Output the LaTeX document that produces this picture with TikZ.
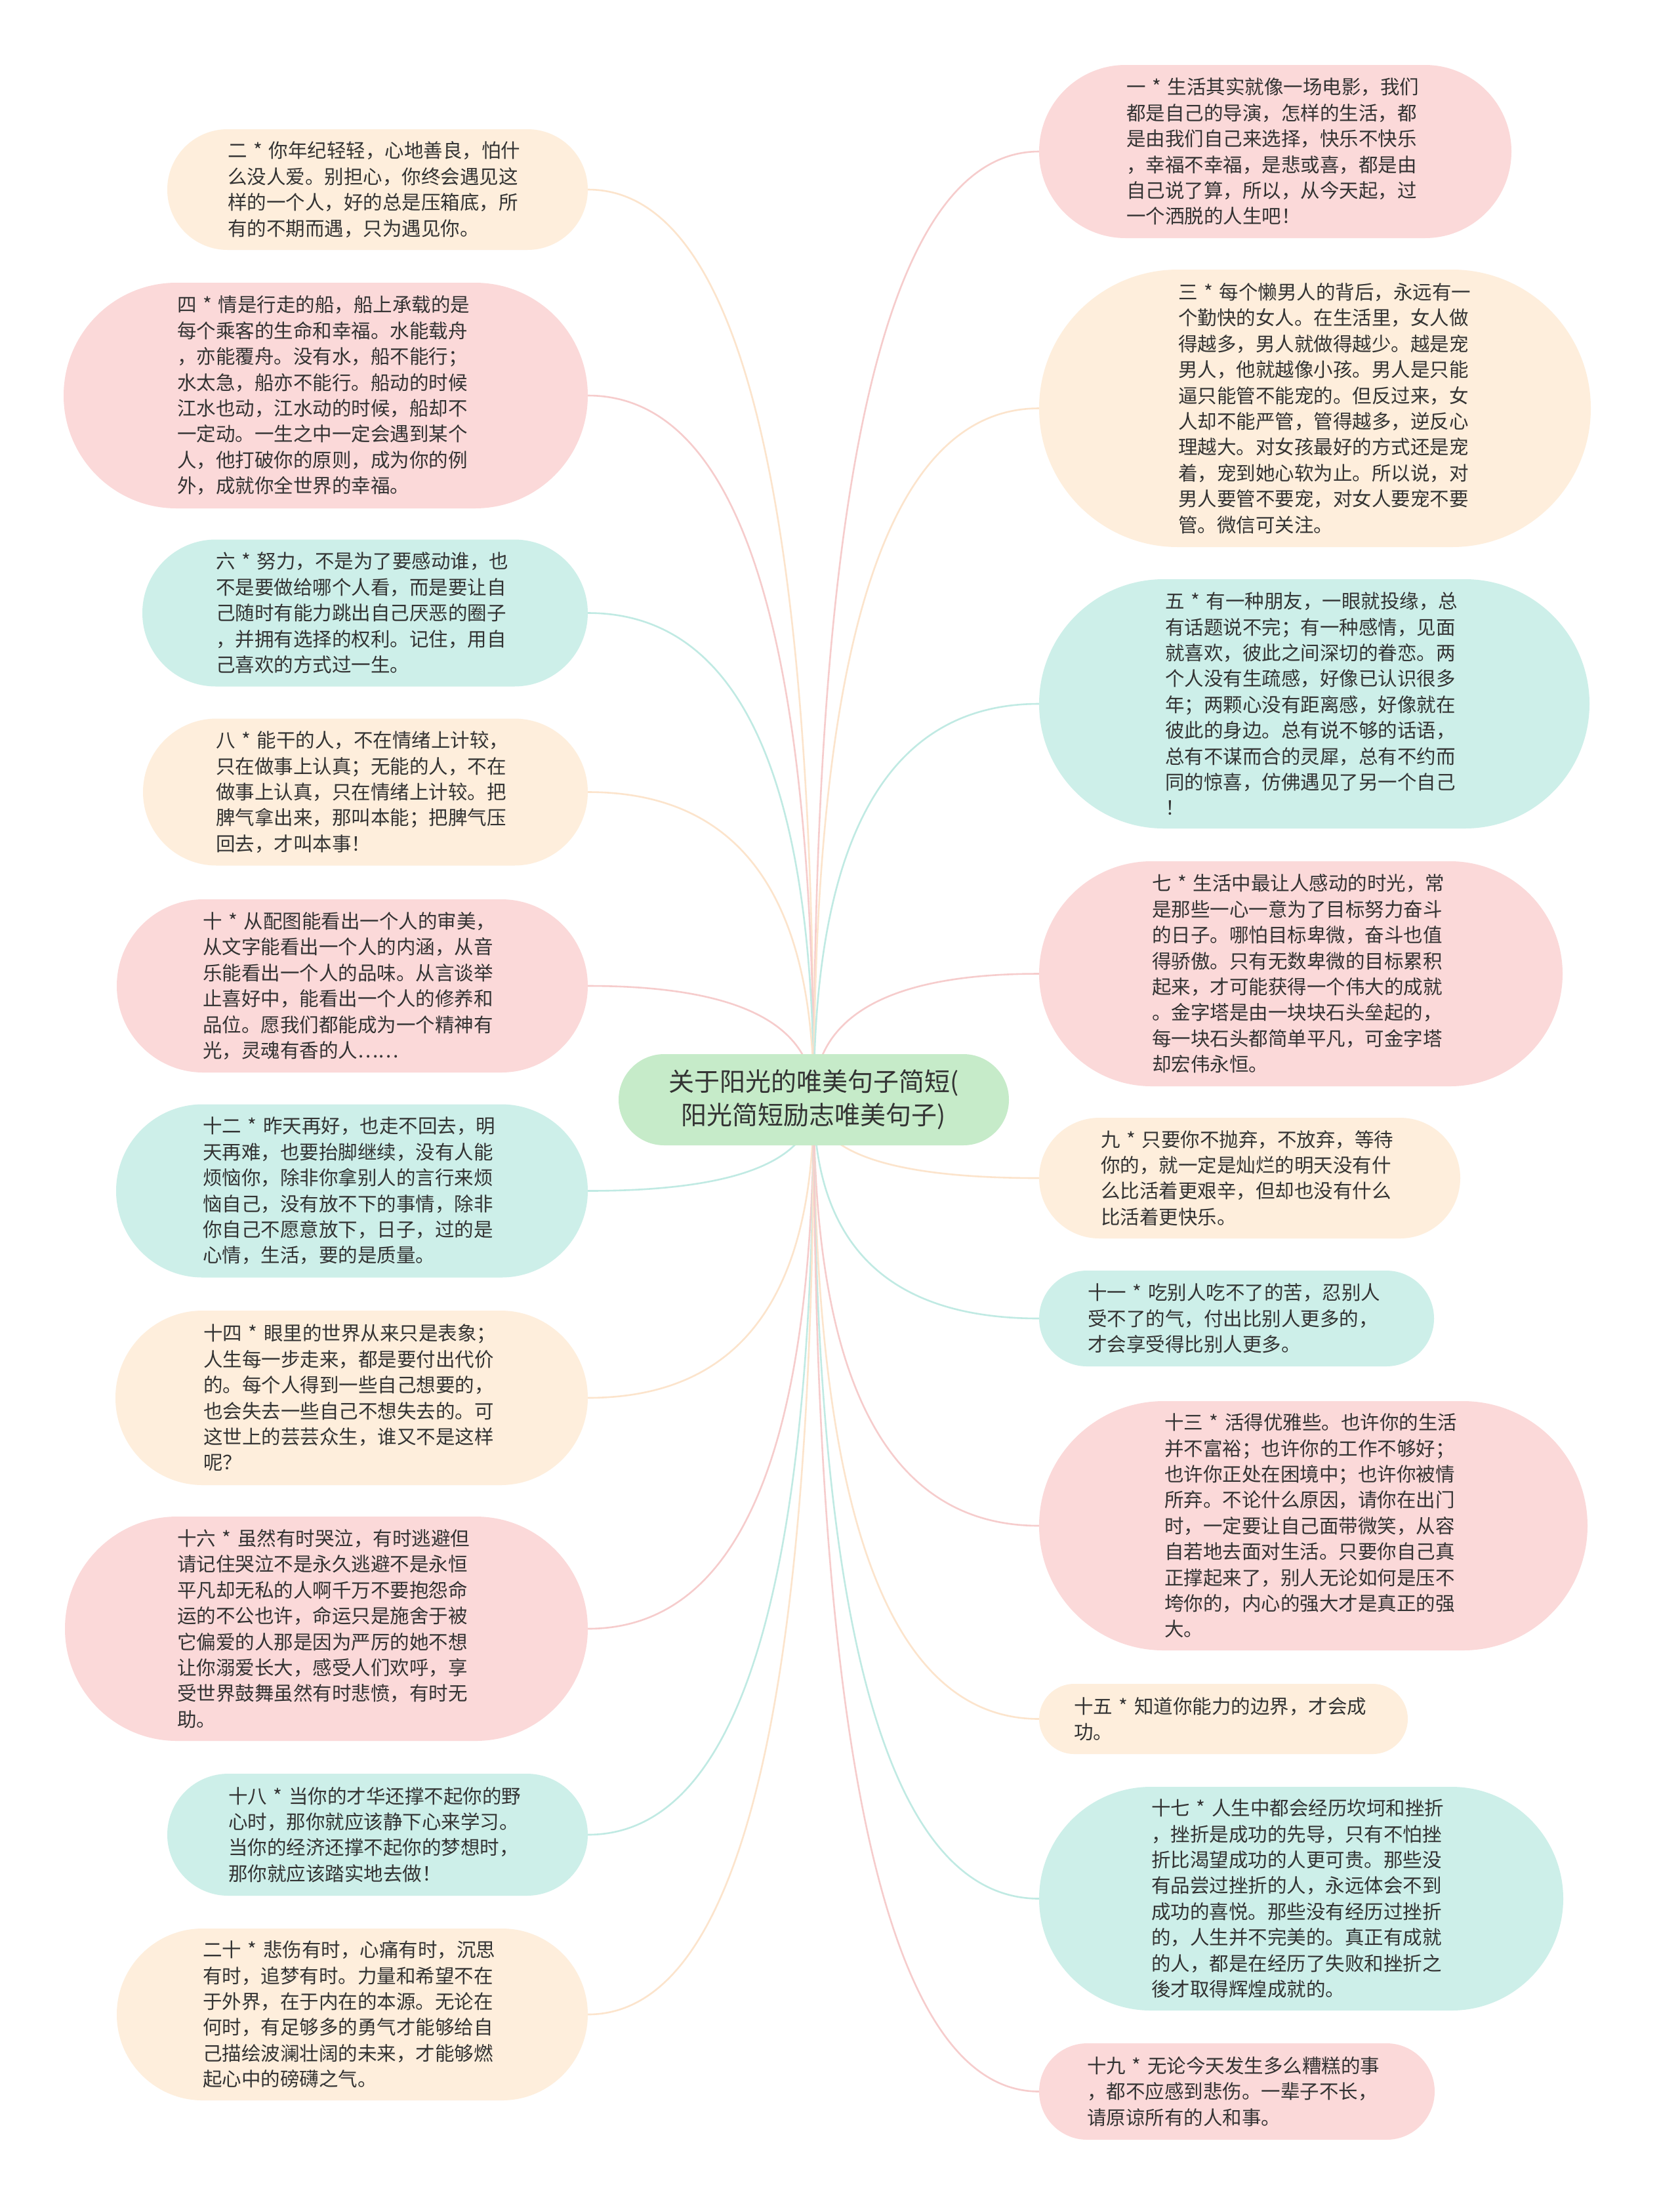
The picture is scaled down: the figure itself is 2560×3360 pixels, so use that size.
\documentclass[tikz,border=0pt]{standalone}
\usepackage{fontspec}
\newfontfamily\cjk{Noto Sans CJK SC}
\usetikzlibrary{shapes.misc,backgrounds,calc}
\definecolor{pinkF}{HTML}{FBD9D9}
\definecolor{peachF}{HTML}{FEEEDC}
\definecolor{mintF}{HTML}{CDEFE9}
\definecolor{rootF}{HTML}{C6EBC9}
\definecolor{pinkL}{HTML}{F6CCCC}
\definecolor{peachL}{HTML}{FCE4CC}
\definecolor{mintL}{HTML}{C0EAE3}
\definecolor{txt}{HTML}{333333}
\newcommand\mmlink[2]{\draw[link,#1] let \p1=(root.center), \p2=(#2) in (\p1) .. controls ($(\p1)!0.6667!(\x1,\y2)$) and ($(\p2)!0.6667!(\x1,\y2)$) .. (\p2);}
\begin{document}
\begin{tikzpicture}[x=1pt,y=-1pt,
  leaf/.style={rounded rectangle, rounded rectangle arc length=180, inner sep=0pt, align=left, text=txt, font=\cjk\fontsize{29.5}{39.4}\selectfont},
  pinkN/.style={leaf, fill=pinkF},
  peachN/.style={leaf, fill=peachF},
  mintN/.style={leaf, fill=mintF},
  rootN/.style={rounded rectangle, rounded rectangle arc length=180, inner sep=0pt, align=center, text=txt, fill=rootF, font=\cjk\fontsize{39}{51}\selectfont},
  link/.style={line width=2.6pt}]
\useasboundingbox (0,0) rectangle (2560,3360);

\node[rootN, minimum width=595, minimum height=139] (root) at (1240.5,1676.5) {关于阳光的唯美句子简短(\\阳光简短励志唯美句子)};

% left column
\node[peachN, minimum width=641, minimum height=184, text width=457] (n2) at (575.5,289) {二~*~你年纪轻轻，心地善良，怕什\\么没人爱。别担心，你终会遇见这\\样的一个人，好的总是压箱底，所\\有的不期而遇，只为遇见你。};
\node[pinkN, minimum width=799, minimum height=344, text width=453] (n4) at (496.5,603) {四~*~情是行走的船，船上承载的是\\每个乘客的生命和幸福。水能载舟\\，亦能覆舟。没有水，船不能行；\\水太急，船亦不能行。船动的时候\\江水也动，江水动的时候，船却不\\一定动。一生之中一定会遇到某个\\人，他打破你的原则，成为你的例\\外，成就你全世界的幸福。};
\node[mintN, minimum width=679, minimum height=224, text width=455] (n6) at (556.5,934.5) {六~*~努力，不是为了要感动谁，也\\不是要做给哪个人看，而是要让自\\己随时有能力跳出自己厌恶的圈子\\，并拥有选择的权利。记住，用自\\己喜欢的方式过一生。};
\node[peachN, minimum width=678, minimum height=224, text width=456] (n8) at (557,1207.5) {八~*~能干的人，不在情绪上计较，\\只在做事上认真；无能的人，不在\\做事上认真，只在情绪上计较。把\\脾气拿出来，那叫本能；把脾气压\\回去，才叫本事！};
\node[pinkN, minimum width=718, minimum height=264, text width=456] (n10) at (537,1503) {十~*~从配图能看出一个人的审美，\\从文字能看出一个人的内涵，从音\\乐能看出一个人的品味。从言谈举\\止喜好中，能看出一个人的修养和\\品位。愿我们都能成为一个精神有\\光，灵魂有香的人……};
\node[mintN, minimum width=719, minimum height=264, text width=455] (n12) at (536.5,1815.5) {十二~*~昨天再好，也走不回去，明\\天再难，也要抬脚继续，没有人能\\烦恼你，除非你拿别人的言行来烦\\恼自己，没有放不下的事情，除非\\你自己不愿意放下，日子，过的是\\心情，生活，要的是质量。};
\node[peachN, minimum width=720, minimum height=266, text width=452] (n14) at (536,2131) {十四~*~眼里的世界从来只是表象；\\人生每一步走来，都是要付出代价\\的。每个人得到一些自己想要的，\\也会失去一些自己不想失去的。可\\这世上的芸芸众生，谁又不是这样\\呢？};
\node[pinkN, minimum width=797, minimum height=342, text width=455] (n16) at (497.5,2483) {十六~*~虽然有时哭泣，有时逃避但\\请记住哭泣不是永久逃避不是永恒\\平凡却无私的人啊千万不要抱怨命\\运的不公也许，命运只是施舍于被\\它偏爱的人那是因为严厉的她不想\\让你溺爱长大，感受人们欢呼，享\\受世界鼓舞虽然有时悲愤，有时无\\助。};
\node[mintN, minimum width=641, minimum height=186, text width=455] (n18) at (575.5,2797) {十八~*~当你的才华还撑不起你的野\\心时，那你就应该静下心来学习。\\当你的经济还撑不起你的梦想时，\\那你就应该踏实地去做！};
\node[peachN, minimum width=718, minimum height=262, text width=456] (n20) at (537,3071) {二十~*~悲伤有时，心痛有时，沉思\\有时，追梦有时。力量和希望不在\\于外界，在于内在的本源。无论在\\何时，有足够多的勇气才能够给自\\己描绘波澜壮阔的未来，才能够燃\\起心中的磅礴之气。};

% right column
\node[pinkN, minimum width=720, minimum height=264, text width=454] (n1) at (1944,231) {一~*~生活其实就像一场电影，我们\\都是自己的导演，怎样的生活，都\\是由我们自己来选择，快乐不快乐\\，幸福不幸福，是悲或喜，都是由\\自己说了算，所以，从今天起，过\\一个洒脱的人生吧！};
\node[peachN, minimum width=841, minimum height=423, text width=417] (n3) at (2004.5,622.5) {三~*~每个懒男人的背后，永远有一\\个勤快的女人。在生活里，女人做\\得越多，男人就做得越少。越是宠\\男人，他就越像小孩。男人是只能\\逼只能管不能宠的。但反过来，女\\人却不能严管，管得越多，逆反心\\理越大。对女孩最好的方式还是宠\\着，宠到她心软为止。所以说，对\\男人要管不要宠，对女人要宠不要\\管。微信可关注。};
\node[mintN, minimum width=839, minimum height=380, text width=455] (n5) at (2003.5,1073) {五~*~有一种朋友，一眼就投缘，总\\有话题说不完；有一种感情，见面\\就喜欢，彼此之间深切的眷恋。两\\个人没有生疏感，好像已认识很多\\年；两颗心没有距离感，好像就在\\彼此的身边。总有说不够的话语，\\总有不谋而合的灵犀，总有不约而\\同的惊喜，仿佛遇见了另一个自己\\！};
\node[pinkN, minimum width=798, minimum height=343, text width=454] (n7) at (1983,1484.5) {七~*~生活中最让人感动的时光，常\\是那些一心一意为了目标努力奋斗\\的日子。哪怕目标卑微，奋斗也值\\得骄傲。只有无数卑微的目标累积\\起来，才可能获得一个伟大的成就\\。金字塔是由一块块石头垒起的，\\每一块石头都简单平凡，可金字塔\\却宏伟永恒。};
\node[peachN, minimum width=642, minimum height=184, text width=454] (n9) at (1905,1796) {九~*~只要你不抛弃，不放弃，等待\\你的，就一定是灿烂的明天没有什\\么比活着更艰辛，但却也没有什么\\比活着更快乐。};
\node[mintN, minimum width=602, minimum height=146, text width=454] (n11) at (1885,2010) {十一~*~吃别人吃不了的苦，忍别人\\受不了的气，付出比别人更多的，\\才会享受得比别人更多。};
\node[pinkN, minimum width=836, minimum height=380, text width=454] (n13) at (2002,2326) {十三~*~活得优雅些。也许你的生活\\并不富裕；也许你的工作不够好；\\也许你正处在困境中；也许你被情\\所弃。不论什么原因，请你在出门\\时，一定要让自己面带微笑，从容\\自若地去面对生活。只要你自己真\\正撑起来了，别人无论如何是压不\\垮你的，内心的强大才是真正的强\\大。};
\node[peachN, minimum width=562, minimum height=107, text width=456] (n15) at (1865,2620.5) {十五~*~知道你能力的边界，才会成\\功。};
\node[mintN, minimum width=799, minimum height=341, text width=457] (n17) at (1983.5,2894.5) {十七~*~人生中都会经历坎坷和挫折\\，挫折是成功的先导，只有不怕挫\\折比渴望成功的人更可贵。那些没\\有品尝过挫折的人，永远体会不到\\成功的喜悦。那些没有经历过挫折\\的，人生并不完美的。真正有成就\\的人，都是在经历了失败和挫折之\\後才取得辉煌成就的。};
\node[pinkN, minimum width=603, minimum height=147, text width=457] (n19) at (1885.5,3188.5) {十九~*~无论今天发生多么糟糕的事\\，都不应感到悲伤。一辈子不长，\\请原谅所有的人和事。};

\begin{scope}[on background layer]
\fill[white] (0,0) rectangle (2560,3360);
\mmlink{peachL}{n2.east}
\mmlink{pinkL}{n4.east}
\mmlink{mintL}{n6.east}
\mmlink{peachL}{n8.east}
\mmlink{pinkL}{n10.east}
\mmlink{mintL}{n12.east}
\mmlink{peachL}{n14.east}
\mmlink{pinkL}{n16.east}
\mmlink{mintL}{n18.east}
\mmlink{peachL}{n20.east}
\mmlink{pinkL}{n1.west}
\mmlink{peachL}{n3.west}
\mmlink{mintL}{n5.west}
\mmlink{pinkL}{n7.west}
\mmlink{peachL}{n9.west}
\mmlink{mintL}{n11.west}
\mmlink{pinkL}{n13.west}
\mmlink{peachL}{n15.west}
\mmlink{mintL}{n17.west}
\mmlink{pinkL}{n19.west}
\end{scope}
\end{tikzpicture}
\end{document}
